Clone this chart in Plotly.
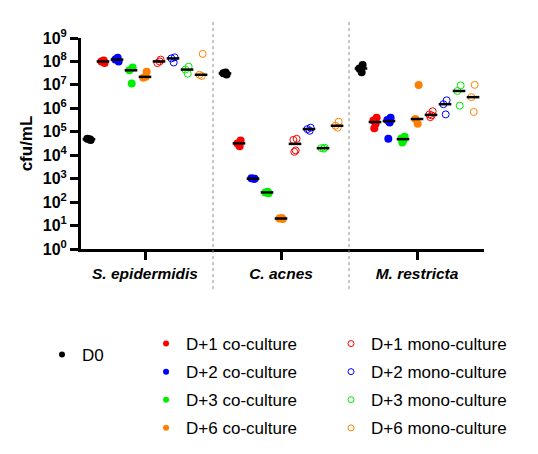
import numpy as np
import plotly.graph_objects as go

# species groups on the x axis
groups = ["S. epidermidis", "C. acnes", "M. restricta"]

# conditions, in the order they sit inside each group
conditions = ["D0",
              "D+1 co-culture", "D+2 co-culture", "D+3 co-culture", "D+6 co-culture",
              "D+1 mono-culture", "D+2 mono-culture", "D+3 mono-culture", "D+6 mono-culture"]

# cfu/mL replicates per species
d0      = [[4.5e4, 5.0e4, 4.8e4], [2.8e7, 3.1e7, 3.4e7], [7.0e7, 5.0e7, 3.5e7]]
d1_co   = [[8.5e7, 1.0e8, 1.1e8], [4.2e4, 3.2e4, 2.4e4], [4.0e5, 3.0e5, 2.2e5, 1.4e5]]
d2_co   = [[1.0e8, 1.2e8, 1.45e8], [1.0e3, 1.05e3, 0.98e3], [4.0e5, 3.2e5, 2.5e5, 5.0e4]]
d3_co   = [[5.5e7, 4.2e7, 1.15e7], [2.4e2, 2.6e2, 2.8e2], [6.2e4, 5.2e4, 4.5e4, 3.5e4]]
d6_co   = [[3.6e7, 2.0e7, 2.2e7], [19, 20, 21], [1.0e7, 3.5e5, 2.2e5]]
d1_mono = [[1.2e8, 8.5e7, 1.0e8], [5.0e4, 4.5e4, 1.6e4, 1.4e4], [7.5e5, 5.5e5, 5.0e5, 4.2e5]]
d2_mono = [[1.5e8, 1.35e8, 9.0e7], [1.5e5, 1.3e5, 1.1e5], [2.2e6, 1.5e6, 5.5e5]]
d3_mono = [[6.0e7, 4.5e7, 3.0e7], [2.1e4, 2.0e4, 1.9e4], [9.5e6, 5.5e6, 1.3e6]]
d6_mono = [[2.1e8, 2.7e7, 2.4e7], [2.7e5, 1.8e5, 1.5e5], [1.0e7, 3.0e6, 7.0e5]]

series = [d0, d1_co, d2_co, d3_co, d6_co, d1_mono, d2_mono, d3_mono, d6_mono]

# y ticks
tick_vals = [10 ** i for i in range(10)]
tick_text = ["<b>10<sup>%d</sup></b>" % i for i in range(10)]

# colours
COLORS = ["#000000", "#ff0000", "#0000ff", "#00ee00", "#ff8000",
          "#ff0000", "#0000ff", "#00ee00", "#ff8000"]
FONT = "Liberation Sans, Arial, sans-serif"
STEP = 0.103          # spacing between condition columns inside a group
JIT = [0.012, -0.012, 0.005, -0.005]

fig = go.Figure()
med_x, med_y = [], []

for k, (name, data) in enumerate(zip(conditions, series)):
    filled = k < 5
    xs, ys = [], []
    for g, vals in enumerate(data):
        x0 = g + (k - 4) * STEP
        for i, v in enumerate(vals):
            xs.append(x0 + JIT[i % 4])
            ys.append(v)
        med_x.append(x0)
        med_y.append(float(np.median(vals)))
    if filled:
        marker = dict(symbol="circle", size=8, color=COLORS[k], line=dict(width=0))
    else:
        marker = dict(symbol="circle-open", size=7, color=COLORS[k], line=dict(width=1))
    fig.add_trace(go.Scatter(x=xs, y=ys, mode="markers", marker=marker,
                             showlegend=False, hoverinfo="y"))

# median bars
fig.add_trace(go.Scatter(x=med_x, y=med_y, mode="markers", showlegend=False,
                         marker=dict(symbol="line-ew", size=9,
                                     line=dict(width=2.5, color="black")),
                         hoverinfo="skip"))

# legend entries (three separate blocks)
for k, name in enumerate(conditions):
    if k == 0:
        leg = "legend"
    elif k < 5:
        leg = "legend2"
    else:
        leg = "legend3"
    if k < 5:
        mk = dict(symbol="circle", size=6, color=COLORS[k])
    else:
        mk = dict(symbol="circle-open", size=6, color=COLORS[k], line=dict(width=1))
    fig.add_trace(go.Scatter(x=[None], y=[None], mode="markers", name=name,
                             marker=mk, legend=leg, legendgroup=name))

# dotted separators between groups
for xs in [0.5, 1.5]:
    fig.add_shape(type="line", x0=xs, x1=xs, xref="x", y0=-0.19, y1=1.085, yref="paper",
                  line=dict(color="#8c8c8c", width=1, dash="dot"))

leg_common = dict(xref="paper", yref="paper", yanchor="top", xanchor="left",
                  font=dict(family=FONT, size=17, color="black"),
                  bgcolor="rgba(0,0,0,0)", tracegroupgap=3, traceorder="grouped")

fig.update_layout(
    width=538, height=454,
    plot_bgcolor="white", paper_bgcolor="white",
    margin=dict(l=73, r=62, t=30, b=213, autoexpand=False),
    font=dict(family=FONT, color="black"),
    legend=dict(x=-0.0967, y=-0.4169, **leg_common),
    legend2=dict(x=0.1614, y=-0.3649, **leg_common),
    legend3=dict(x=0.6204, y=-0.3649, **leg_common),
)

fig.update_xaxes(
    range=[-0.4706, 2.4926], tickvals=[0, 1, 2],
    ticktext=["<b><i>%s</i></b>" % g for g in groups],
    tickfont=dict(size=15.5, family=FONT, color="black"),
    showline=True, linewidth=3, linecolor="black",
    ticks="outside", ticklen=8, tickwidth=3, tickcolor="black",
    showgrid=False, zeroline=False,
)

fig.update_yaxes(
    type="log", range=[0, 9], tickvals=tick_vals, ticktext=tick_text,
    tickfont=dict(size=16, family=FONT, color="black"),
    showline=True, linewidth=3, linecolor="black",
    ticks="outside", ticklen=8, tickwidth=3, tickcolor="black",
    showgrid=False, zeroline=False,
    title=dict(text="<b>cfu/mL</b>", font=dict(size=17, family=FONT, color="black"),
               standoff=6),
)

fig.write_html("out.html")
